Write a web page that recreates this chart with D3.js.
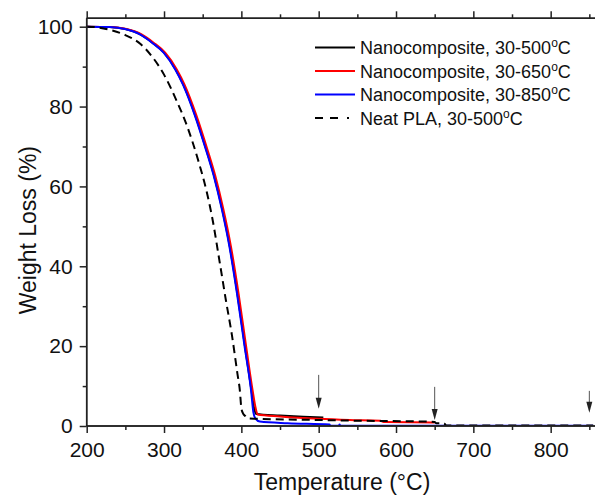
<!DOCTYPE html>
<html>
<head>
<meta charset="utf-8">
<script src="https://cdn.jsdelivr.net/npm/d3@7"></script>
<style>
  body { margin: 0; background: #fff; }
  svg { display: block; font-family: Arial, "Liberation Sans", sans-serif; }
</style>
</head>
<body>
<div id="chart"></div>
<script>
// TGA curves: temperature (°C) and remaining weight (%)
const blackT = [200, 230, 250, 270, 285, 300, 315, 325, 340, 355, 365, 375, 385, 395, 405, 413, 417, 419, 450, 480, 506]
const blackW = [100, 99.9, 99.4, 98.0, 96.0, 93.5, 89.3, 85.5, 78, 69, 62.5, 54.5, 45, 33, 19.5, 9, 4, 3.0, 2.6, 2.3, 2.1]

const redT = [200, 231.5, 251.5, 271.5, 286.5, 301.5, 316.5, 326.5, 341.5, 356.5, 366.5, 376.5, 386.5, 396.5, 406.5, 414.5, 418.5, 421, 450, 500, 540, 580, 584, 620, 650]
const redW = [100, 99.9, 99.4, 98.0, 96.0, 93.5, 89.3, 85.5, 78, 69, 62.5, 54.5, 45, 33, 19.5, 9, 4.5, 2.9, 2.4, 1.8, 1.5, 1.3, 1.0, 0.95, 0.9]

const blueT = [200, 229.5, 249.5, 269.5, 284.5, 299.5, 314.5, 324.5, 339.5, 354.5, 364.5, 374.5, 384.5, 394.5, 404.5, 412.5, 415.5, 418, 424, 460, 514, 515, 526, 527, 528, 855]
const blueW = [100, 99.9, 99.4, 98.0, 96.0, 93.5, 89.3, 85.5, 78, 69, 62.5, 54.5, 45, 33, 19.5, 9, 3.5, 1.9, 1.1, 0.7, 0.4, 0.05, 0.05, 0.4, 0.05, 0.05]

const plaT = [200, 215, 230, 250, 270, 285, 300, 315, 330, 345, 355, 362, 372, 380, 388, 395, 398, 400, 402, 405, 408, 420, 500, 560, 640, 650, 652, 662, 665, 855]
const plaW = [100, 99.8, 99.2, 97.9, 95.6, 92.4, 88, 82, 75, 66, 58.8, 52.5, 41, 31.5, 22.5, 13, 9, 4.5, 3.2, 2.5, 1.9, 1.8, 1.5, 1.3, 1.1, 1.0, 0.7, 0.7, 0.1, 0.1]

const seriesNames = ['Nanocomposite, 30-500', 'Nanocomposite, 30-650', 'Nanocomposite, 30-850', 'Neat PLA, 30-500']
const seriesColors = ['#000000', '#ff0000', '#0000ff', '#000000']

// end-of-run arrows (temperature, top and tip in weight %)
const arrowT = [500, 650, 850]
const arrowTop = [12.8, 9.8, 8.8]
const arrowTip = [4.3, 1.5, 3.3]

const xTicks = [200, 300, 400, 500, 600, 700, 800]
const xMinor = [250, 350, 450, 550, 650, 750, 850]
const yTicks = [0, 20, 40, 60, 80, 100]
const yMinor = [10, 30, 50, 70, 90]

const W = 595, H = 497

const svg = d3.select('#chart')
  .append('svg')
  .attr('width', W)
  .attr('height', H)

const x = d3.scaleLinear().domain([200, 870]).range([86.7, 604.8])
const y = d3.scaleLinear().domain([0, 100]).range([426, 26.7])
const yTop = y(102.1)

const axisColor = '#222'

// clip for the curves
svg.append('clipPath').attr('id', 'plot')
  .append('rect')
  .attr('x', x(200)).attr('y', yTop)
  .attr('width', W - x(200)).attr('height', y(0) - yTop)

const toPts = (T, Wt) => T.map((t, i) => [t, Wt[i]])
const series = [toPts(blackT, blackW), toPts(redT, redW), toPts(blueT, blueW), toPts(plaT, plaW)]

const line = d3.line()
  .x(d => x(d[0]))
  .y(d => y(d[1]))
  .curve(d3.curveMonotoneX)

const curves = svg.append('g').attr('clip-path', 'url(#plot)')
series.forEach((s, i) => {
  curves.append('path')
    .datum(s)
    .attr('d', line)
    .attr('fill', 'none')
    .attr('stroke', seriesColors[i])
    .attr('stroke-width', 2)
    .attr('stroke-linejoin', 'round')
    .attr('stroke-dasharray', i === 3 ? '8,5' : null)
})

/* Axes */
// bottom axis, major + minor
svg.append('g')
  .attr('class', 'xax')
  .attr('transform', `translate(0, ${y(0)})`)
  .call(d3.axisBottom(x).tickValues(xMinor).tickSize(4).tickFormat(''))
svg.append('g')
  .attr('class', 'xax')
  .attr('transform', `translate(0, ${y(0)})`)
  .call(d3.axisBottom(x).tickValues(xTicks).tickSize(7).tickPadding(9).tickFormat(d3.format('d')))

// top frame, ticks pointing up
svg.append('g')
  .attr('class', 'xax')
  .attr('transform', `translate(0, ${yTop})`)
  .call(d3.axisTop(x).tickValues(xMinor).tickSize(4).tickFormat(''))
svg.append('g')
  .attr('class', 'xax')
  .attr('transform', `translate(0, ${yTop})`)
  .call(d3.axisTop(x).tickValues(xTicks).tickSize(7).tickFormat(''))

// left axis
const yAxisScale = d3.scaleLinear().domain([0, 102.1]).range([y(0), yTop])
svg.append('g')
  .attr('class', 'yax')
  .attr('transform', `translate(${x(200)}, 0)`)
  .call(d3.axisLeft(yAxisScale).tickValues(yMinor).tickSize(4).tickFormat(''))
svg.append('g')
  .attr('class', 'yax')
  .attr('transform', `translate(${x(200)}, 0)`)
  .call(d3.axisLeft(yAxisScale).tickValues(yTicks).tickSize(7).tickPadding(7).tickFormat(d3.format('d')))

svg.selectAll('.domain').attr('stroke', axisColor).attr('stroke-width', 1.5)
svg.selectAll('.tick line').attr('stroke', axisColor).attr('stroke-width', 1.5)
svg.selectAll('.tick text')
  .style('font-size', '21px')
  .style('fill', '#111')
  .style('font-family', 'Arial, "Liberation Sans", sans-serif')

// plain frame lines, no end caps
svg.selectAll('.yax .domain').attr('d', `M0,${y(0)}V${yTop}`)
svg.selectAll('.xax .domain').attr('d', `M${x(200)},0H${W + 20}`)

/* Arrows */
const arrows = svg.append('g')
arrowT.forEach((t, i) => {
  const ax = x(t), y0 = y(arrowTop[i]), y1 = y(arrowTip[i])
  arrows.append('line')
    .attr('x1', ax).attr('x2', ax)
    .attr('y1', y0).attr('y2', y1 - 8)
    .attr('stroke', '#555')
    .attr('stroke-width', 1)
  arrows.append('path')
    .attr('d', `M${ax - 3},${y1 - 11}L${ax + 3},${y1 - 11}L${ax},${y1}Z`)
    .attr('fill', '#222')
})

/* Legend */
const legend = svg.append('g').attr('transform', 'translate(315, 47.5)')
seriesNames.forEach((name, i) => {
  const row = legend.append('g').attr('transform', `translate(0, ${i * 23.5})`)
  row.append('line')
    .attr('x1', 0).attr('x2', i === 3 ? 34 : 40)
    .attr('y1', 0).attr('y2', 0)
    .attr('stroke', seriesColors[i])
    .attr('stroke-width', 2)
    .attr('stroke-dasharray', i === 3 ? '8,7,8,9,2,10' : null)
  const txt = row.append('text')
    .attr('x', 45)
    .attr('y', 6.5)
    .style('font-size', '18px')
    .style('fill', '#111')
    .text(name)
  txt.append('tspan')
    .attr('dy', -7)
    .style('font-size', '12px')
    .text('o')
  txt.append('tspan')
    .attr('dy', 7)
    .text('C')
})

/* Axis titles */
svg.append('text')
  .attr('transform', `translate(342, 490)`)
  .style('text-anchor', 'middle')
  .style('font-size', '23px')
  .style('fill', '#111')
  .text('Temperature (°C)')

svg.append('text')
  .attr('transform', `translate(36, ${(y(0) + yTop) / 2 + 8}) rotate(-90)`)
  .style('text-anchor', 'middle')
  .style('font-size', '23px')
  .style('fill', '#111')
  .text('Weight Loss (%)')
</script>
</body>
</html>
